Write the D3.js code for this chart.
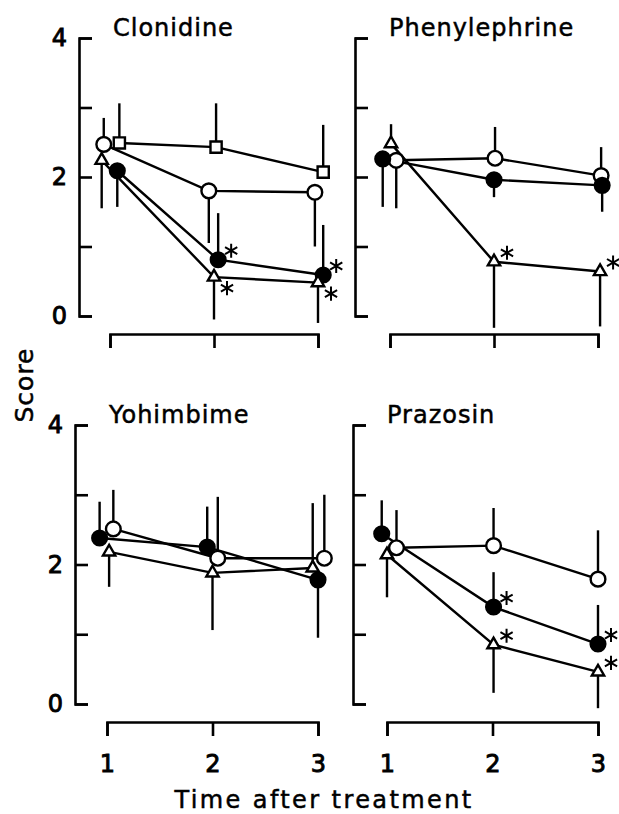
<!DOCTYPE html>
<html>
<head>
<meta charset="utf-8">
<script src="https://d3js.org/d3.v7.min.js"></script>
<style>
body { margin: 0; background: #fff; }
text { font-family: "DejaVu Sans", sans-serif; fill: #000; stroke: #000; stroke-width: 0.5px; }
</style>
</head>
<body>
<div id="chart"></div>
<script>
// panel titles and axis ticks
var titles = ["Clonidine", "Phenylephrine", "Yohimbime", "Prazosin"];
var xTicks = [1, 2, 3];
var yTicks = [0, 1, 2, 3, 4];
var yLabels = [0, 2, 4];

// each series: marker, time (slightly dodged), mean score, end of the error bar, significance star
// star: 1 = star above right, -1 = star below right
var clonidine = [
    {marker: "square", t: [1.09, 2.02, 3.05], score: [2.49, 2.43, 2.07], bar: [3.06, 3.06, 2.75], star: [0, 0, 0]},
    {marker: "open", t: [0.94, 1.95, 2.97], score: [2.47, 1.80, 1.78], bar: [2.85, 1.05, 1.00], star: [0, 0, 0]},
    {marker: "filled", t: [1.07, 2.04, 3.05], score: [2.09, 0.81, 0.59], bar: [1.57, 1.48, 1.31], star: [0, 1, 1]},
    {marker: "triangle", t: [0.92, 2.00, 3.00], score: [2.24, 0.56, 0.48], bar: [1.55, -0.05, -0.10], star: [0, -1, -1]}
];
var phenylephrine = [
    {marker: "open", t: [1.06, 2.01, 3.03], score: [2.24, 2.27, 2.02], bar: [1.55, 2.72, 2.43], star: [0, 0, 0]},
    {marker: "filled", t: [0.93, 2.00, 3.04], score: [2.26, 1.96, 1.88], bar: [1.57, 1.71, 1.50], star: [0, 0, 0]},
    {marker: "triangle", t: [1.01, 2.00, 3.02], score: [2.48, 0.78, 0.64], bar: [2.76, -0.17, -0.15], star: [0, 1, 1]}
];
var yohimbime = [
    {marker: "open", t: [1.06, 2.05, 3.06], score: [2.51, 2.09, 2.09], bar: [3.07, 2.97, 3.00], star: [0, 0, 0]},
    {marker: "filled", t: [0.93, 1.95, 3.00], score: [2.38, 2.25, 1.78], bar: [2.90, 2.83, 0.95], star: [0, 0, 0]},
    {marker: "triangle", t: [1.02, 2.00, 2.95], score: [2.18, 1.88, 1.95], bar: [1.68, 1.06, 2.88], star: [0, 0, 0]}
];
var prazosin = [
    {marker: "open", t: [1.09, 2.01, 3.00], score: [2.24, 2.27, 1.79], bar: [2.78, 2.81, 2.49], star: [0, 0, 0]},
    {marker: "filled", t: [0.95, 2.01, 3.00], score: [2.44, 1.39, 0.86], bar: [2.92, 1.89, 1.42], star: [0, 1, 1]},
    {marker: "triangle", t: [1.00, 2.01, 3.00], score: [2.14, 0.85, 0.46], bar: [1.53, 0.16, -0.06], star: [0, 1, 1]}
];
var panelData = [clonidine, phenylephrine, yohimbime, prazosin];

// pixel layout of the four panels
var layout = [
    {ax: 79, top: 38, bottom: 316, x0: 110, x1: 318, xAxisY: 334, left: true, base: false},
    {ax: 355, top: 38, bottom: 316, x0: 390, x1: 598, xAxisY: 334, left: false, base: false},
    {ax: 75, top: 425, bottom: 704, x0: 107, x1: 318, xAxisY: 722, left: true, base: true},
    {ax: 353, top: 425, bottom: 704, x0: 387, x1: 598, xAxisY: 722, left: false, base: true}
];

var svg = d3.select("#chart")
    .append("svg")
    .attr("width", 619)
    .attr("height", 814);

layout.forEach(function(p, i) {
    var xScale = d3.scaleLinear().domain([1, 3]).range([p.x0, p.x1]);
    var yScale = d3.scaleLinear().domain([0, 4]).range([p.bottom, p.top]);
    var g = svg.append("g");

    // y axis: bracket with ticks pointing inward
    var leftAxis = d3.axisLeft(yScale)
        .tickValues(yTicks)
        .tickSizeInner(-13)
        .tickSizeOuter(-13)
        .tickPadding(12)
        .tickFormat(function(d) { return p.left && yLabels.indexOf(d) >= 0 ? d : ""; });
    var ya = g.append("g")
        .attr("transform", "translate(" + p.ax + ",0)")
        .call(leftAxis);

    // x axis: bracket with ticks pointing down
    var bottomAxis = d3.axisBottom(xScale)
        .tickValues(xTicks)
        .tickSizeInner(14)
        .tickSizeOuter(14)
        .tickPadding(19)
        .tickFormat(function(d) { return p.base ? d : ""; });
    var xa = g.append("g")
        .attr("transform", "translate(0," + p.xAxisY + ")")
        .call(bottomAxis);

    [ya, xa].forEach(function(a) {
        a.attr("font-family", null).attr("font-size", null);
        a.selectAll("path, line").attr("stroke", "#000").attr("stroke-width", 2.6);
        a.selectAll("text").attr("font-size", 24).attr("fill", "#000").style("stroke-width", "0.9px");
    });

    // title
    g.append("text")
        .attr("x", p.ax + 34)
        .attr("y", p.top - 2)
        .attr("font-size", 24)
        .attr("letter-spacing", 1)
        .text(titles[i]);

    var series = panelData[i];
    var line = d3.line()
        .x(function(d) { return xScale(d[0]); })
        .y(function(d) { return yScale(d[1]); });

    // connecting lines
    series.forEach(function(s) {
        g.append("path")
            .datum(d3.zip(s.t, s.score))
            .attr("d", line)
            .attr("fill", "none")
            .attr("stroke", "#000")
            .attr("stroke-width", 2.4);
    });

    // one-sided error bars
    series.forEach(function(s) {
        g.append("g")
            .selectAll("line")
            .data(d3.range(s.t.length))
            .enter()
            .append("line")
            .attr("x1", function(k) { return xScale(s.t[k]); })
            .attr("x2", function(k) { return xScale(s.t[k]); })
            .attr("y1", function(k) { return yScale(s.score[k]); })
            .attr("y2", function(k) { return yScale(s.bar[k]); })
            .attr("stroke", "#000")
            .attr("stroke-width", 2.4);
    });

    // markers
    series.forEach(function(s) {
        var type = s.marker === "square" ? d3.symbolSquare
            : s.marker === "triangle" ? d3.symbolTriangle : d3.symbolCircle;
        var size = s.marker === "square" ? 125
            : s.marker === "triangle" ? 66 : 170;
        g.append("g")
            .selectAll("path")
            .data(d3.range(s.t.length))
            .enter()
            .append("path")
            .attr("d", d3.symbol().type(type).size(size))
            .attr("transform", function(k) {
                return "translate(" + xScale(s.t[k]) + "," + yScale(s.score[k]) + ")";
            })
            .attr("fill", s.marker === "filled" ? "#000" : "#fff")
            .attr("stroke", "#000")
            .attr("stroke-width", 2.4);
    });

    // significance stars
    series.forEach(function(s) {
        g.append("g")
            .selectAll("path")
            .data(d3.range(s.t.length).filter(function(k) { return s.star[k] !== 0; }))
            .enter()
            .append("path")
            .attr("d", d3.symbol().type(d3.symbolAsterisk).size(140))
            .attr("transform", function(k) {
                var dx = 13, dy = s.star[k] > 0 ? -9 : 11;
                return "translate(" + (xScale(s.t[k]) + dx) + "," + (yScale(s.score[k]) + dy) + ")";
            })
            .attr("fill", "none")
            .attr("stroke", "#000")
            .attr("stroke-width", 2);
    });
});

// shared axis titles
svg.append("text")
    .attr("transform", "translate(24,385) rotate(-90)")
    .attr("text-anchor", "middle")
    .attr("dominant-baseline", "central")
    .attr("font-size", 25)
    .attr("letter-spacing", 1)
    .text("Score");

svg.append("text")
    .attr("x", 324)
    .attr("y", 808)
    .attr("text-anchor", "middle")
    .attr("font-size", 24)
    .attr("letter-spacing", 2.4)
    .text("Time after treatment");
</script>
</body>
</html>
